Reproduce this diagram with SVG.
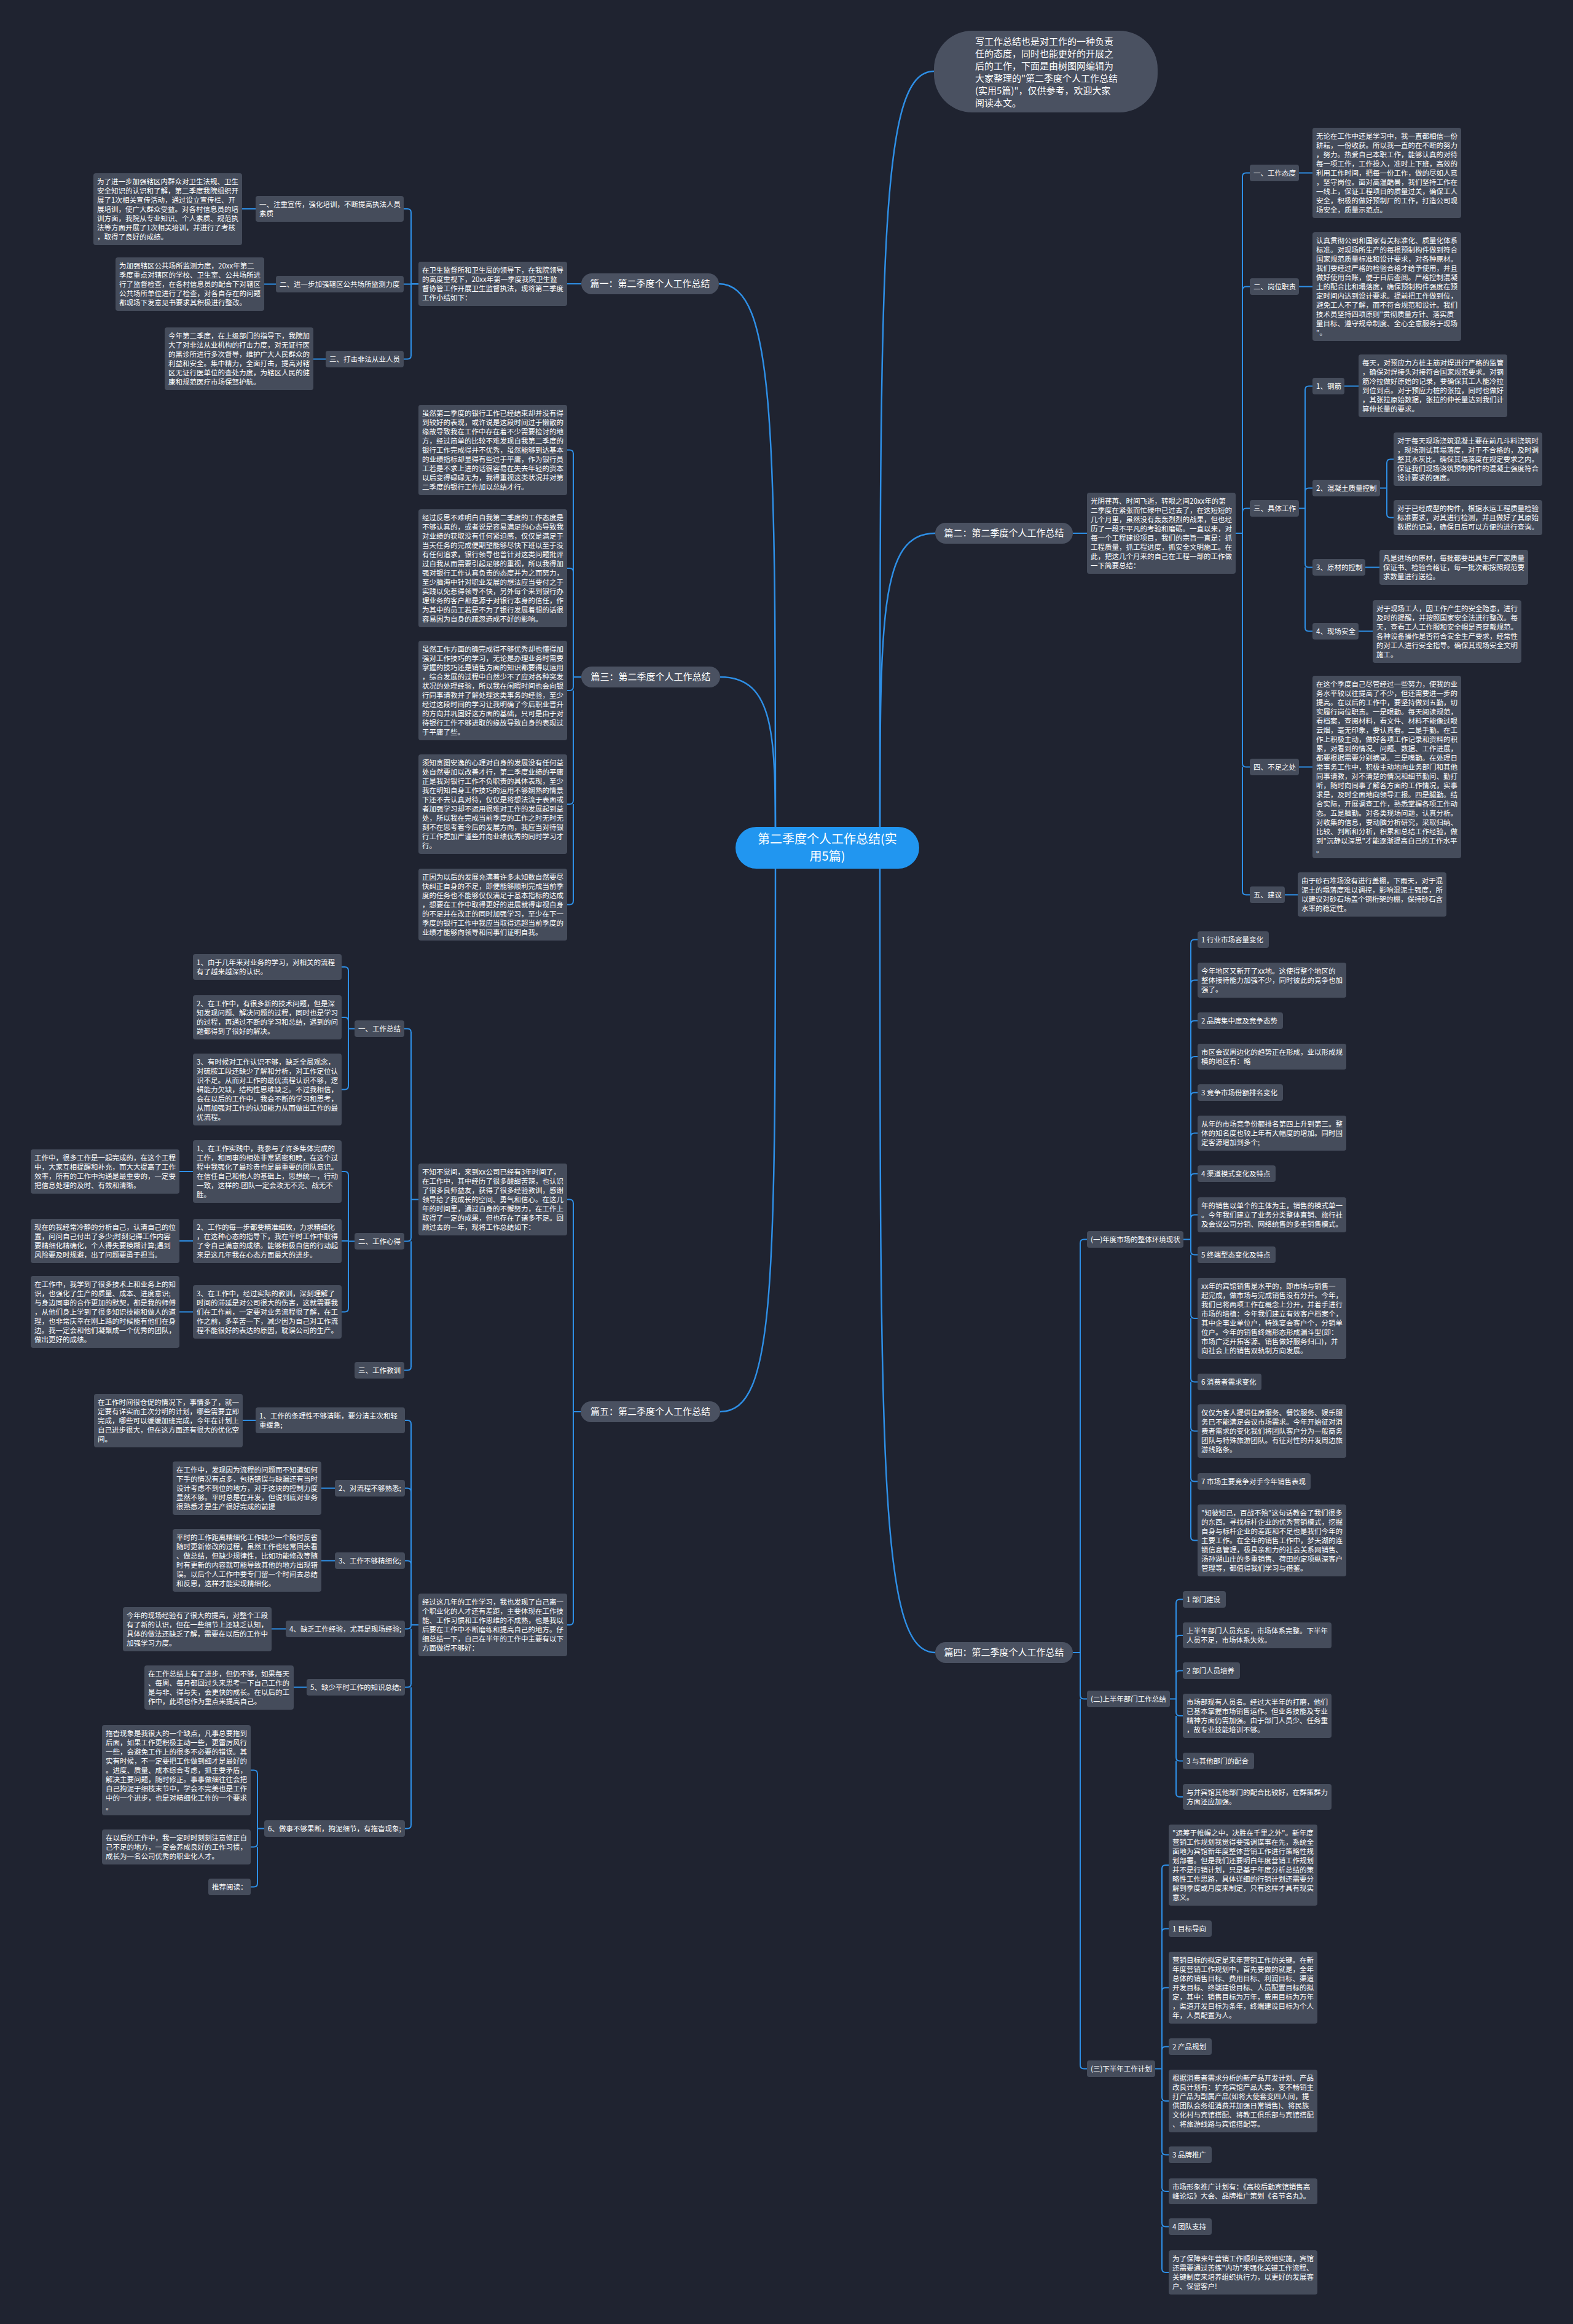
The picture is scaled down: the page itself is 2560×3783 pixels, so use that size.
<svg xmlns="http://www.w3.org/2000/svg" width="2560" height="3783" viewBox="0 0 2560 3783">
<style>
.n{fill:#454c5b}
.l1{fill:#4a5161}
.t{fill:#ffffff;font-family:"Noto Sans CJK SC","Noto Sans",sans-serif;font-size:11.5px}
.t1{fill:#ffffff;font-family:"Noto Sans CJK SC","Noto Sans",sans-serif;font-size:15px}
.c{fill:none;stroke:#2e8fe6;stroke-width:2}
.c1{fill:none;stroke:#2e8fe6;stroke-width:2.5}
</style>
<rect width="2560" height="3783" fill="#1f2330"/>
<g id="connectors">
<path class="c1" d="M1170,462 C1262,462 1262,700 1262,1380"/>
<path class="c1" d="M1172,1102 C1262,1102 1262,1200 1262,1380"/>
<path class="c1" d="M1172,2298 C1262,2298 1262,2100 1262,1380"/>
<path class="c1" d="M1520,116 C1432,116 1432,400 1432,1380"/>
<path class="c1" d="M1522,868 C1432,868 1432,1000 1432,1380"/>
<path class="c1" d="M1522,2690 C1432,2690 1432,2400 1432,1380"/>
<path class="c" d="M946,462 H923 M681,462 H669 V346 Q669,340 663,340 H657 M681,462.5 H657 M669,462 V578.5 Q669,584.5 663,584.5 H657 M416,340 H394 M449,462.5 H430 M530,584.5 H510"/>
<path class="c" d="M946,1102 H933 V738.5 Q933,732.5 927,732.5 H923 M933,931 Q933,925 927,925 H923 M933,1102 V1118 Q933,1124 927,1124 H923 M933,1124 V1303 Q933,1309 927,1309 H923 M933,1309 V1466.5 Q933,1472.5 927,1472.5 H923"/>
<path class="c" d="M945,2298 H933 V1958.5 Q933,1952.5 927,1952.5 H923 M933,2298 V2639 Q933,2645 927,2645 H923"/>
<path class="c" d="M681,1952.5 H669 V1680.5 Q669,1674.5 663,1674.5 H658 M669,1952.5 V2014.5 Q669,2020.5 663,2020.5 H658 M669,2020.5 V2224.5 Q669,2230.5 663,2230.5 H658"/>
<path class="c" d="M577,1674.5 H567 V1580 Q567,1574 561,1574 H556 M567,1662 Q567,1656 561,1656 H556 M567,1674.5 V1767.5 Q567,1773.5 561,1773.5 H556"/>
<path class="c" d="M577,2020.5 H567 V1913 Q567,1907 561,1907 H556 M567,2020 H556 M567,2020.5 V2129.5 Q567,2135.5 561,2135.5 H556 M314,1907 H292 M314,2020 H292 M314,2135.5 H292"/>
<path class="c" d="M681,2645 H669 V2318 Q669,2312 663,2312 H659 M669,2428.5 Q669,2422.5 663,2422.5 H659 M669,2546.5 Q669,2540.5 663,2540.5 H659 M669,2645 V2645.5 Q669,2651.5 663,2651.5 H659 M669,2651.5 V2740.5 Q669,2746.5 663,2746.5 H659 M669,2746.5 V2970.5 Q669,2976.5 663,2976.5 H659"/>
<path class="c" d="M416,2312 H395 M545,2422.5 H523 M545,2540.5 H523 M465,2651.5 H442 M499,2746.5 H478"/>
<path class="c" d="M430,2976.5 H419 V2887.5 Q419,2881.5 413,2881.5 H408 M419,2976.5 V3000.5 Q419,3006.5 413,3006.5 H408 M419,3006.5 V3065.5 Q419,3071.5 413,3071.5 H408"/>
<path class="c" d="M1746,868 H1769 M2011,868 H2022 V287.5 Q2022,281.5 2028,281.5 H2034 M2022,472.5 Q2022,466.5 2028,466.5 H2034 M2022,833.5 Q2022,827.5 2028,827.5 H2034 M2022,868 V1242.5 Q2022,1248.5 2028,1248.5 H2034 M2022,1248.5 V1450.5 Q2022,1456.5 2028,1456.5 H2034"/>
<path class="c" d="M2114,281.5 H2136 M2114,466.5 H2136 M2114,1248.5 H2136 M2091,1456.5 H2112"/>
<path class="c" d="M2114,827.5 H2124 V634.5 Q2124,628.5 2130,628.5 H2136 M2124,800.5 Q2124,794.5 2130,794.5 H2136 M2124,827.5 V917.5 Q2124,923.5 2130,923.5 H2136 M2124,923.5 V1021.5 Q2124,1027.5 2130,1027.5 H2136"/>
<path class="c" d="M2188,628.5 H2211 M2246,794.5 H2257 V753.5 Q2257,747.5 2263,747.5 H2268 M2257,794.5 V836.5 Q2257,842.5 2263,842.5 H2268 M2222,923.5 H2245 M2211,1027.5 H2234"/>
<path class="c" d="M1746,2690 H1758 V2023.5 Q1758,2017.5 1764,2017.5 H1769 M1758,2690 V2759.5 Q1758,2765.5 1764,2765.5 H1769 M1758,2765.5 V3361.5 Q1758,3367.5 1764,3367.5 H1769"/>
<path class="c" d="M1926,2017.5 H1938 V1535.5 Q1938,1529.5 1944,1529.5 H1949 M1938,1601.5 Q1938,1595.5 1944,1595.5 H1949 M1938,1667.5 Q1938,1661.5 1944,1661.5 H1949 M1938,1726 Q1938,1720 1944,1720 H1949 M1938,1784.5 Q1938,1778.5 1944,1778.5 H1949 M1938,1850.5 Q1938,1844.5 1944,1844.5 H1949 M1938,1916.5 Q1938,1910.5 1944,1910.5 H1949 M1938,1983.5 Q1938,1977.5 1944,1977.5 H1949 M1938,2017.5 V2036.5 Q1938,2042.5 1944,2042.5 H1949 M1938,2042.5 V2140 Q1938,2146 1944,2146 H1949 M1938,2146 V2243.5 Q1938,2249.5 1944,2249.5 H1949 M1938,2249.5 V2323.5 Q1938,2329.5 1944,2329.5 H1949 M1938,2329.5 V2405.5 Q1938,2411.5 1944,2411.5 H1949 M1938,2411.5 V2501.5 Q1938,2507.5 1944,2507.5 H1949"/>
<path class="c" d="M1904,2765.5 H1914 V2609.5 Q1914,2603.5 1920,2603.5 H1925 M1914,2668 Q1914,2662 1920,2662 H1925 M1914,2725.5 Q1914,2719.5 1920,2719.5 H1925 M1914,2765.5 V2787 Q1914,2793 1920,2793 H1925 M1914,2793 V2860.5 Q1914,2866.5 1920,2866.5 H1925 M1914,2866.5 V2919 Q1914,2925 1920,2925 H1925"/>
<path class="c" d="M1880,3367.5 H1891 V3042 Q1891,3036 1897,3036 H1902 M1891,3145.5 Q1891,3139.5 1897,3139.5 H1902 M1891,3241.5 Q1891,3235.5 1897,3235.5 H1902 M1891,3337.5 Q1891,3331.5 1897,3331.5 H1902 M1891,3367.5 V3414 Q1891,3420 1897,3420 H1902 M1891,3420 V3501.5 Q1891,3507.5 1897,3507.5 H1902 M1891,3507.5 V3561 Q1891,3567 1897,3567 H1902 M1891,3567 V3618.5 Q1891,3624.5 1897,3624.5 H1902 M1891,3624.5 V3693 Q1891,3699 1897,3699 H1902"/>
</g>
<g id="center"><rect x="1197" y="1346" width="299" height="68" rx="34" fill="#2196f0"/><text fill="#fff" font-family="Noto Sans CJK SC,Noto Sans,sans-serif" font-size="20" text-anchor="middle"><tspan x="1346.5" y="1373">第二季度个人工作总结(实</tspan><tspan x="1346.5" y="1401">用5篇)</tspan></text></g>
<g id="intro"><rect x="1520" y="50" width="364" height="133" rx="62" class="l1"/><text class="t1"><tspan x="1587" y="73">写工作总结也是对工作的一种负责</tspan><tspan x="1587" y="93">任的态度，同时也能更好的开展之</tspan><tspan x="1587" y="113">后的工作，下面是由树图网编辑为</tspan><tspan x="1587" y="133">大家整理的"第二季度个人工作总结</tspan><tspan x="1587" y="152.5">(实用5篇)"，仅供参考，欢迎大家</tspan><tspan x="1587" y="172.5">阅读本文。</tspan></text></g>

<g id="p1"><rect x="946" y="445" width="224" height="34" rx="17" class="l1"/><text class="t1" x="1058" y="467" text-anchor="middle">篇一：第二季度个人工作总结</text></g>
<g id="p1i"><rect x="681" y="426" width="242" height="72" rx="4" class="n"/><text class="t"><tspan x="687" y="443.5">在卫生监督所和卫生局的领导下，在我院领导</tspan><tspan x="687" y="458.5">的高度重视下，20xx年第一季度我院卫生监</tspan><tspan x="687" y="473.5">督协管工作开展卫生监督执法，现将第二季度</tspan><tspan x="687" y="488.5">工作小结如下：</tspan></text></g>
<g id="p1l1"><rect x="416" y="319" width="241" height="42" rx="4" class="n"/><text class="t"><tspan x="422" y="336.5">一、注重宣传，强化培训，不断提高执法人员</tspan><tspan x="422" y="351.5">素质</tspan></text></g>
<g id="p1l2"><rect x="449" y="449" width="208" height="27" rx="4" class="n"/><text class="t" x="455" y="467">二、进一步加强辖区公共场所监测力度</text></g>
<g id="p1l3"><rect x="530" y="571" width="127" height="27" rx="4" class="n"/><text class="t" x="536" y="589">三、打击非法从业人员</text></g>
<g id="p1t1"><rect x="152" y="282" width="242" height="117" rx="4" class="n"/><text class="t"><tspan x="158" y="299.5">为了进一步加强辖区内群众对卫生法规、卫生</tspan><tspan x="158" y="314.5">安全知识的认识和了解，第二季度我院组织开</tspan><tspan x="158" y="329.5">展了1次相关宣传活动，通过设立宣传栏、开</tspan><tspan x="158" y="344.5">展培训，使广大群众受益。对各村信息员的培</tspan><tspan x="158" y="359.5">训方面，我院从专业知识、个人素质、规范执</tspan><tspan x="158" y="374.5">法等方面开展了1次相关培训，并进行了考核</tspan><tspan x="158" y="389.5">，取得了良好的成绩。</tspan></text></g>
<g id="p1t2"><rect x="188" y="419" width="242" height="87" rx="4" class="n"/><text class="t"><tspan x="194" y="436.5">为加强辖区公共场所监测力度，20xx年第二</tspan><tspan x="194" y="451.5">季度重点对辖区的学校、卫生室、公共场所进</tspan><tspan x="194" y="466.5">行了监督检查，在各村信息员的配合下对辖区</tspan><tspan x="194" y="481.5">公共场所单位进行了检查，对各自存在的问题</tspan><tspan x="194" y="496.5">都现场下发意见书要求其积极进行整改。</tspan></text></g>
<g id="p1t3"><rect x="268" y="533" width="242" height="102" rx="4" class="n"/><text class="t"><tspan x="274" y="550.5">今年第二季度，在上级部门的指导下，我院加</tspan><tspan x="274" y="565.5">大了对非法从业机构的打击力度，对无证行医</tspan><tspan x="274" y="580.5">的黑诊所进行多次督导，维护广大人民群众的</tspan><tspan x="274" y="595.5">利益和安全。集中精力，全面打击，提高对辖</tspan><tspan x="274" y="610.5">区无证行医单位的查处力度，为辖区人民的健</tspan><tspan x="274" y="625.5">康和规范医疗市场保驾护航。</tspan></text></g>

<g id="p3"><rect x="946" y="1085" width="226" height="34" rx="17" class="l1"/><text class="t1" x="1059" y="1107" text-anchor="middle">篇三：第二季度个人工作总结</text></g>
<g id="p3b1"><rect x="681" y="659" width="242" height="147" rx="4" class="n"/><text class="t"><tspan x="687" y="676.5">虽然第二季度的银行工作已经结束却并没有得</tspan><tspan x="687" y="691.5">到较好的表现，或许说是这段时间过于懒散的</tspan><tspan x="687" y="706.5">缘故导致我在工作中存在着不少需要检讨的地</tspan><tspan x="687" y="721.5">方，经过简单的比较不难发现自我第二季度的</tspan><tspan x="687" y="736.5">银行工作完成得并不优秀，虽然能够到达基本</tspan><tspan x="687" y="751.5">的业绩指标却显得有些过于平庸，作为银行员</tspan><tspan x="687" y="766.5">工若是不求上进的话很容易在失去年轻的资本</tspan><tspan x="687" y="781.5">以后变得碌碌无为，我得重视这类状况并对第</tspan><tspan x="687" y="796.5">二季度的银行工作加以总结才行。</tspan></text></g>
<g id="p3b2"><rect x="681" y="829" width="242" height="192" rx="4" class="n"/><text class="t"><tspan x="687" y="846.5">经过反思不难明白自我第二季度的工作态度是</tspan><tspan x="687" y="861.5">不够认真的，或者说是容易满足的心态导致我</tspan><tspan x="687" y="876.5">对业绩的获取没有任何紧迫感，仅仅是满足于</tspan><tspan x="687" y="891.5">当天任务的完成便期望能够尽快下班以至于没</tspan><tspan x="687" y="906.5">有任何追求，银行领导也曾针对这类问题批评</tspan><tspan x="687" y="921.5">过自我从而需要引起足够的重视，所以我得加</tspan><tspan x="687" y="936.5">强对银行工作认真负责的态度并为之而努力，</tspan><tspan x="687" y="951.5">至少脑海中针对职业发展的想法应当要付之于</tspan><tspan x="687" y="966.5">实践以免惹得领导不快，另外每个来到银行办</tspan><tspan x="687" y="981.5">理业务的客户都是源于对银行本身的信任，作</tspan><tspan x="687" y="996.5">为其中的员工若是不为了银行发展着想的话很</tspan><tspan x="687" y="1011.5">容易因为自身的疏忽造成不好的影响。</tspan></text></g>
<g id="p3b3"><rect x="681" y="1043" width="242" height="162" rx="4" class="n"/><text class="t"><tspan x="687" y="1060.5">虽然工作方面的确完成得不够优秀却也懂得加</tspan><tspan x="687" y="1075.5">强对工作技巧的学习，无论是办理业务时需要</tspan><tspan x="687" y="1090.5">掌握的技巧还是销售方面的知识都要得以运用</tspan><tspan x="687" y="1105.5">，综合发展的过程中自然少不了应对各种突发</tspan><tspan x="687" y="1120.5">状况的处理经验，所以我在闲暇时间也会向银</tspan><tspan x="687" y="1135.5">行同事请教并了解处理这类事务的经验，至少</tspan><tspan x="687" y="1150.5">经过这段时间的学习让我明确了今后职业晋升</tspan><tspan x="687" y="1165.5">的方向并巩固好这方面的基础，只可是由于对</tspan><tspan x="687" y="1180.5">待银行工作不够进取的缘故导致自身的表现过</tspan><tspan x="687" y="1195.5">于平庸了些。</tspan></text></g>
<g id="p3b4"><rect x="681" y="1228" width="242" height="162" rx="4" class="n"/><text class="t"><tspan x="687" y="1245.5">须知贪图安逸的心理对自身的发展没有任何益</tspan><tspan x="687" y="1260.5">处自然要加以改善才行，第二季度业绩的平庸</tspan><tspan x="687" y="1275.5">正是我对银行工作不负职责的具体表现，至少</tspan><tspan x="687" y="1290.5">我在明知自身工作技巧的运用不够娴熟的情景</tspan><tspan x="687" y="1305.5">下还不去认真对待，仅仅是将想法流于表面或</tspan><tspan x="687" y="1320.5">者加强学习却不运用很难对工作的发展起到益</tspan><tspan x="687" y="1335.5">处，所以我在完成当前季度的工作之时无时无</tspan><tspan x="687" y="1350.5">刻不在思考着今后的发展方向，我应当对待银</tspan><tspan x="687" y="1365.5">行工作更加严谨些并向业绩优秀的同时学习才</tspan><tspan x="687" y="1380.5">行。</tspan></text></g>
<g id="p3b5"><rect x="681" y="1414" width="242" height="117" rx="4" class="n"/><text class="t"><tspan x="687" y="1431.5">正因为以后的发展充满着许多未知数自然要尽</tspan><tspan x="687" y="1446.5">快纠正自身的不足，即便能够顺利完成当前季</tspan><tspan x="687" y="1461.5">度的任务也不能够仅仅满足于基本指标的达成</tspan><tspan x="687" y="1476.5">，想要在工作中取得更好的进展就得审视自身</tspan><tspan x="687" y="1491.5">的不足并在改正的同时加强学习，至少在下一</tspan><tspan x="687" y="1506.5">季度的银行工作中我应当取得远超当前季度的</tspan><tspan x="687" y="1521.5">业绩才能够向领导和同事们证明自我。</tspan></text></g>

<g id="p5"><rect x="945" y="2281" width="227" height="34" rx="17" class="l1"/><text class="t1" x="1058.5" y="2303" text-anchor="middle">篇五：第二季度个人工作总结</text></g>
<g id="p5i1"><rect x="681" y="1894" width="242" height="117" rx="4" class="n"/><text class="t"><tspan x="687" y="1911.5">不知不觉间，来到xx公司已经有3年时间了，</tspan><tspan x="687" y="1926.5">在工作中，其中经历了很多酸甜苦辣，也认识</tspan><tspan x="687" y="1941.5">了很多良师益友，获得了很多经验教训，感谢</tspan><tspan x="687" y="1956.5">领导给了我成长的空间、勇气和信心。在这几</tspan><tspan x="687" y="1971.5">年的时间里，通过自身的不懈努力，在工作上</tspan><tspan x="687" y="1986.5">取得了一定的成果，但也存在了诸多不足。回</tspan><tspan x="687" y="2001.5">顾过去的一年，现将工作总结如下：</tspan></text></g>
<g id="p5i2"><rect x="681" y="2594" width="242" height="102" rx="4" class="n"/><text class="t"><tspan x="687" y="2611.5">经过这几年的工作学习，我也发现了自己离一</tspan><tspan x="687" y="2626.5">个职业化的人才还有差距，主要体现在工作技</tspan><tspan x="687" y="2641.5">能、工作习惯和工作思维的不成熟，也是我以</tspan><tspan x="687" y="2656.5">后要在工作中不断磨练和提高自己的地方。仔</tspan><tspan x="687" y="2671.5">细总结一下，自己在半年的工作中主要有以下</tspan><tspan x="687" y="2686.5">方面做得不够好：</tspan></text></g>
<g id="p5l1"><rect x="577" y="1661" width="81" height="27" rx="4" class="n"/><text class="t" x="583" y="1679">一、工作总结</text></g>
<g id="p5l2"><rect x="577" y="2007" width="81" height="27" rx="4" class="n"/><text class="t" x="583" y="2025">二、工作心得</text></g>
<g id="p5l3"><rect x="577" y="2217" width="81" height="27" rx="4" class="n"/><text class="t" x="583" y="2235">三、工作教训</text></g>
<g id="p5l1a"><rect x="314" y="1553" width="242" height="42" rx="4" class="n"/><text class="t"><tspan x="320" y="1570.5">1、由于几年来对业务的学习，对相关的流程</tspan><tspan x="320" y="1585.5">有了越来越深的认识。</tspan></text></g>
<g id="p5l1b"><rect x="314" y="1620" width="242" height="72" rx="4" class="n"/><text class="t"><tspan x="320" y="1637.5">2、在工作中，有很多新的技术问题，但是深</tspan><tspan x="320" y="1652.5">知发现问题、解决问题的过程，同时也是学习</tspan><tspan x="320" y="1667.5">的过程，再通过不断的学习和总结，遇到的问</tspan><tspan x="320" y="1682.5">题都得到了很好的解决。</tspan></text></g>
<g id="p5l1c"><rect x="314" y="1715" width="242" height="117" rx="4" class="n"/><text class="t"><tspan x="320" y="1732.5">3、有时候对工作认识不够，缺乏全局观念，</tspan><tspan x="320" y="1747.5">对硫胺工段还缺少了解和分析，对工作定位认</tspan><tspan x="320" y="1762.5">识不足。从而对工作的最优流程认识不够，逻</tspan><tspan x="320" y="1777.5">辑能力欠缺，结构性思维缺乏。不过我相信，</tspan><tspan x="320" y="1792.5">会在以后的工作中，我会不断的学习和思考，</tspan><tspan x="320" y="1807.5">从而加强对工作的认知能力从而做出工作的最</tspan><tspan x="320" y="1822.5">优流程。</tspan></text></g>
<g id="p5l2a"><rect x="314" y="1856" width="242" height="102" rx="4" class="n"/><text class="t"><tspan x="320" y="1873.5">1、在工作实践中，我参与了许多集体完成的</tspan><tspan x="320" y="1888.5">工作，和同事的相处非常紧密和睦，在这个过</tspan><tspan x="320" y="1903.5">程中我强化了最珍贵也是最重要的团队意识。</tspan><tspan x="320" y="1918.5">在信任自己和他人的基础上，思想统一，行动</tspan><tspan x="320" y="1933.5">一致，这样的.团队一定会攻无不克、战无不</tspan><tspan x="320" y="1948.5">胜。</tspan></text></g>
<g id="p5l2a1"><rect x="50" y="1871" width="242" height="72" rx="4" class="n"/><text class="t"><tspan x="56" y="1888.5">工作中，很多工作是一起完成的，在这个工程</tspan><tspan x="56" y="1903.5">中，大家互相提醒和补充，而大大提高了工作</tspan><tspan x="56" y="1918.5">效率，所有的工作中沟通是最重要的，一定要</tspan><tspan x="56" y="1933.5">把信息处理的及时、有效和清晰。</tspan></text></g>
<g id="p5l2b"><rect x="314" y="1984" width="242" height="72" rx="4" class="n"/><text class="t"><tspan x="320" y="2001.5">2、工作的每一步都要精准细致，力求精细化</tspan><tspan x="320" y="2016.5">，在这种心态的指导下，我在平时工作中取得</tspan><tspan x="320" y="2031.5">了令自己满意的成绩。能够积极自信的行动起</tspan><tspan x="320" y="2046.5">来是这几年我在心态方面最大的进步。</tspan></text></g>
<g id="p5l2b1"><rect x="50" y="1984" width="242" height="72" rx="4" class="n"/><text class="t"><tspan x="56" y="2001.5">现在的我经常冷静的分析自己，认清自己的位</tspan><tspan x="56" y="2016.5">置，问问自己付出了多少;时刻记得工作内容</tspan><tspan x="56" y="2031.5">要精细化精确化，个人得失要模糊计算;遇到</tspan><tspan x="56" y="2046.5">风险要及时规避，出了问题要勇于担当。</tspan></text></g>
<g id="p5l2c"><rect x="314" y="2092" width="242" height="87" rx="4" class="n"/><text class="t"><tspan x="320" y="2109.5">3、在工作中，经过实际的教训，深刻理解了</tspan><tspan x="320" y="2124.5">时间的滞延是对公司很大的伤害，这就需要我</tspan><tspan x="320" y="2139.5">们在工作前，一定要对业务流程很了解，在工</tspan><tspan x="320" y="2154.5">作之前，多辛苦一下，减少因为自己对工作流</tspan><tspan x="320" y="2169.5">程不能很好的表达的原因，耽误公司的生产。</tspan></text></g>
<g id="p5l2c1"><rect x="50" y="2077" width="242" height="117" rx="4" class="n"/><text class="t"><tspan x="56" y="2094.5">在工作中，我学到了很多技术上和业务上的知</tspan><tspan x="56" y="2109.5">识，也强化了生产的质量、成本、进度意识;</tspan><tspan x="56" y="2124.5">与身边同事的合作更加的默契，都是我的师傅</tspan><tspan x="56" y="2139.5">，从他们身上学到了很多知识技能和做人的道</tspan><tspan x="56" y="2154.5">理，也非常庆幸在刚上路的时候能有他们在身</tspan><tspan x="56" y="2169.5">边。我一定会和他们凝聚成一个优秀的团队，</tspan><tspan x="56" y="2184.5">做出更好的成绩。</tspan></text></g>
<g id="p5m1"><rect x="416" y="2291" width="243" height="42" rx="4" class="n"/><text class="t"><tspan x="422" y="2308.5">1、工作的条理性不够清晰，要分清主次和轻</tspan><tspan x="422" y="2323.5">重缓急;</tspan></text></g>
<g id="p5m2"><rect x="545" y="2409" width="114" height="27" rx="4" class="n"/><text class="t" x="551" y="2427">2、对流程不够熟悉;</text></g>
<g id="p5m3"><rect x="545" y="2527" width="114" height="27" rx="4" class="n"/><text class="t" x="551" y="2545">3、工作不够精细化;</text></g>
<g id="p5m4"><rect x="465" y="2638" width="194" height="27" rx="4" class="n"/><text class="t" x="471" y="2656">4、缺乏工作经验，尤其是现场经验;</text></g>
<g id="p5m5"><rect x="499" y="2733" width="160" height="27" rx="4" class="n"/><text class="t" x="505" y="2751">5、缺少平时工作的知识总结;</text></g>
<g id="p5m6"><rect x="430" y="2963" width="229" height="27" rx="4" class="n"/><text class="t" x="436" y="2981">6、做事不够果断，拘泥细节，有拖沓现象;</text></g>
<g id="p5m1c"><rect x="153" y="2269" width="242" height="87" rx="4" class="n"/><text class="t"><tspan x="159" y="2286.5">在工作时间很仓促的情况下，事情多了，就一</tspan><tspan x="159" y="2301.5">定要有详实而主次分明的计划，哪些需要立即</tspan><tspan x="159" y="2316.5">完成，哪些可以缓缓加班完成，今年在计划上</tspan><tspan x="159" y="2331.5">自己进步很大，但在这方面还有很大的优化空</tspan><tspan x="159" y="2346.5">间。</tspan></text></g>
<g id="p5m2c"><rect x="281" y="2379" width="242" height="87" rx="4" class="n"/><text class="t"><tspan x="287" y="2396.5">在工作中，发现因为流程的问题而不知道如何</tspan><tspan x="287" y="2411.5">下手的情况有点多，包括错误与缺漏还有当时</tspan><tspan x="287" y="2426.5">设计考虑不到位的地方，对于这块的控制力度</tspan><tspan x="287" y="2441.5">显然不够。平时总是在开发，但说到底对业务</tspan><tspan x="287" y="2456.5">很熟悉才是生产很好完成的前提</tspan></text></g>
<g id="p5m3c"><rect x="281" y="2489" width="242" height="102" rx="4" class="n"/><text class="t"><tspan x="287" y="2506.5">平时的工作距离精细化工作缺少一个随时反省</tspan><tspan x="287" y="2521.5">随时更新修改的过程，虽然工作也经常回头看</tspan><tspan x="287" y="2536.5">、做总结，但缺少规律性，比如功能修改等随</tspan><tspan x="287" y="2551.5">时有更新的内容就可能导致其他的地方出现错</tspan><tspan x="287" y="2566.5">误。以后个人工作中要专门留一个时间去总结</tspan><tspan x="287" y="2581.5">和反思，这样才能实现精细化。</tspan></text></g>
<g id="p5m4c"><rect x="200" y="2616" width="242" height="72" rx="4" class="n"/><text class="t"><tspan x="206" y="2633.5">今年的现场经验有了很大的提高，对整个工段</tspan><tspan x="206" y="2648.5">有了新的认识，但在一些细节上还缺乏认知，</tspan><tspan x="206" y="2663.5">具体的做法还缺乏了解，需要在以后的工作中</tspan><tspan x="206" y="2678.5">加强学习力度。</tspan></text></g>
<g id="p5m5c"><rect x="235" y="2711" width="243" height="72" rx="4" class="n"/><text class="t"><tspan x="241" y="2728.5">在工作总结上有了进步，但仍不够，如果每天</tspan><tspan x="241" y="2743.5">、每周、每月都回过头来思考一下自己工作的</tspan><tspan x="241" y="2758.5">是与非、得与失，会更快的成长。在以后的工</tspan><tspan x="241" y="2773.5">作中，此项也作为重点来提高自己。</tspan></text></g>
<g id="p5m6a"><rect x="166" y="2808" width="242" height="147" rx="4" class="n"/><text class="t"><tspan x="172" y="2825.5">拖沓现象是我很大的一个缺点，凡事总要拖到</tspan><tspan x="172" y="2840.5">后面，如果工作更积极主动一些，更雷厉风行</tspan><tspan x="172" y="2855.5">一些，会避免工作上的很多不必要的错误。其</tspan><tspan x="172" y="2870.5">实有时候，不一定要把工作做到细才是最好的</tspan><tspan x="172" y="2885.5">。进度、质量、成本综合考虑，抓主要矛盾，</tspan><tspan x="172" y="2900.5">解决主要问题，随时修正。事事做细往往会把</tspan><tspan x="172" y="2915.5">自己拘泥于细枝末节中，学会不完美也是工作</tspan><tspan x="172" y="2930.5">中的一个进步，也是对精细化工作的一个要求</tspan><tspan x="172" y="2945.5">。</tspan></text></g>
<g id="p5m6b"><rect x="166" y="2978" width="242" height="57" rx="4" class="n"/><text class="t"><tspan x="172" y="2995.5">在以后的工作中，我一定时时刻刻注意修正自</tspan><tspan x="172" y="3010.5">己不足的地方，一定会养成良好的工作习惯，</tspan><tspan x="172" y="3025.5">成长为一名公司优秀的职业化人才。</tspan></text></g>
<g id="p5m6c"><rect x="339" y="3058" width="69" height="27" rx="4" class="n"/><text class="t" x="345" y="3076">推荐阅读：</text></g>

<g id="p2"><rect x="1522" y="851" width="224" height="34" rx="17" class="l1"/><text class="t1" x="1634" y="873" text-anchor="middle">篇二：第二季度个人工作总结</text></g>
<g id="p2i"><rect x="1769" y="802" width="242" height="132" rx="4" class="n"/><text class="t"><tspan x="1775" y="819.5">光阴荏苒、时间飞逝，转眼之间20xx年的第</tspan><tspan x="1775" y="834.5">二季度在紧张而忙碌中已过去了，在这短短的</tspan><tspan x="1775" y="849.5">几个月里，虽然没有轰轰烈烈的战果，但也经</tspan><tspan x="1775" y="864.5">历了一段不平凡的考验和磨砺。一直以来，对</tspan><tspan x="1775" y="879.5">每一个工程建设项目，我们的宗旨一直是：抓</tspan><tspan x="1775" y="894.5">工程质量，抓工程进度，抓安全文明施工。在</tspan><tspan x="1775" y="909.5">此，把这几个月来的自己在工程一部的工作做</tspan><tspan x="1775" y="924.5">一下简要总结：</tspan></text></g>
<g id="p2q1"><rect x="2034" y="268" width="80" height="27" rx="4" class="n"/><text class="t" x="2040" y="286">一、工作态度</text></g>
<g id="p2q2"><rect x="2034" y="453" width="80" height="27" rx="4" class="n"/><text class="t" x="2040" y="471">二、岗位职责</text></g>
<g id="p2q3"><rect x="2034" y="814" width="80" height="27" rx="4" class="n"/><text class="t" x="2040" y="832">三、具体工作</text></g>
<g id="p2q4"><rect x="2034" y="1235" width="80" height="27" rx="4" class="n"/><text class="t" x="2040" y="1253">四、不足之处</text></g>
<g id="p2q5"><rect x="2034" y="1443" width="57" height="27" rx="4" class="n"/><text class="t" x="2040" y="1461">五、建议</text></g>
<g id="p2q1t"><rect x="2136" y="208" width="242" height="147" rx="4" class="n"/><text class="t"><tspan x="2142" y="225.5">无论在工作中还是学习中，我一直都相信一份</tspan><tspan x="2142" y="240.5">耕耘，一份收获。所以我一直的在不断的努力</tspan><tspan x="2142" y="255.5">，努力。热爱自己本职工作，能够认真的对待</tspan><tspan x="2142" y="270.5">每一项工作，工作投入，准时上下班，高效的</tspan><tspan x="2142" y="285.5">利用工作时间，把每一份工作，做的尽如人意</tspan><tspan x="2142" y="300.5">，坚守岗位。面对高温酷暑，我们坚持工作在</tspan><tspan x="2142" y="315.5">一线上，保证工程项目的质量过关，确保工人</tspan><tspan x="2142" y="330.5">安全，积极的做好预制厂的工作，打造公司现</tspan><tspan x="2142" y="345.5">场安全，质量示范点。</tspan></text></g>
<g id="p2q2t"><rect x="2136" y="378" width="242" height="177" rx="4" class="n"/><text class="t"><tspan x="2142" y="395.5">认真贯彻公司和国家有关标准化、质量化体系</tspan><tspan x="2142" y="410.5">标准。对现场所生产的每根预制构件做到符合</tspan><tspan x="2142" y="425.5">国家规范质量标准和设计要求，对各种原材。</tspan><tspan x="2142" y="440.5">我们要经过严格的检验合格才给予使用，并且</tspan><tspan x="2142" y="455.5">做好使用台账，便于日后查阅。严格控制混凝</tspan><tspan x="2142" y="470.5">土的配合比和塌落度，确保预制构件强度在预</tspan><tspan x="2142" y="485.5">定时间内达到设计要求。提前把工作做到位，</tspan><tspan x="2142" y="500.5">避免工人不了解，而不符合规范和设计。我们</tspan><tspan x="2142" y="515.5">技术员坚持四项原则"贯彻质量方针、落实质</tspan><tspan x="2142" y="530.5">量目标、遵守规章制度、全心全意服务于现场</tspan><tspan x="2142" y="545.5">"。</tspan></text></g>
<g id="p2s1"><rect x="2136" y="615" width="52" height="27" rx="4" class="n"/><text class="t" x="2142" y="633">1、钢筋</text></g>
<g id="p2s2"><rect x="2136" y="781" width="110" height="27" rx="4" class="n"/><text class="t" x="2142" y="799">2、混凝土质量控制</text></g>
<g id="p2s3"><rect x="2136" y="910" width="86" height="27" rx="4" class="n"/><text class="t" x="2142" y="928">3、原材的控制</text></g>
<g id="p2s4"><rect x="2136" y="1014" width="75" height="27" rx="4" class="n"/><text class="t" x="2142" y="1032">4、现场安全</text></g>
<g id="p2s1t"><rect x="2211" y="577" width="242" height="102" rx="4" class="n"/><text class="t"><tspan x="2217" y="594.5">每天，对预应力方桩主筋对焊进行严格的监管</tspan><tspan x="2217" y="609.5">，确保对焊接头对接符合国家规范要求。对钢</tspan><tspan x="2217" y="624.5">筋冷拉做好原始的记录，要确保其工人能冷拉</tspan><tspan x="2217" y="639.5">到位到点。对于预应力桩的张拉，同时也做好</tspan><tspan x="2217" y="654.5">，其张拉原始数据，张拉的伸长量达到我们计</tspan><tspan x="2217" y="669.5">算伸长量的要求。</tspan></text></g>
<g id="p2s2a"><rect x="2268" y="704" width="242" height="87" rx="4" class="n"/><text class="t"><tspan x="2274" y="721.5">对于每天现场浇筑混凝土要在前几斗料浇筑时</tspan><tspan x="2274" y="736.5">，现场测试其塌落度，对于不合格的，及时调</tspan><tspan x="2274" y="751.5">整其水灰比。确保其塌落度在规定要求之内。</tspan><tspan x="2274" y="766.5">保证我们现场浇筑预制构件的混凝土强度符合</tspan><tspan x="2274" y="781.5">设计要求的强度。</tspan></text></g>
<g id="p2s2b"><rect x="2268" y="814" width="242" height="57" rx="4" class="n"/><text class="t"><tspan x="2274" y="831.5">对于已经成型的构件，根据水运工程质量检验</tspan><tspan x="2274" y="846.5">标准要求，对其进行检测，并且做好了其原始</tspan><tspan x="2274" y="861.5">数据的记录，确保日后可以方便的进行查询。</tspan></text></g>
<g id="p2s3t"><rect x="2245" y="895" width="242" height="57" rx="4" class="n"/><text class="t"><tspan x="2251" y="912.5">凡是进场的原材，每批都要出具生产厂家质量</tspan><tspan x="2251" y="927.5">保证书、检验合格证，每一批次都按照规范要</tspan><tspan x="2251" y="942.5">求数量进行送检。</tspan></text></g>
<g id="p2s4t"><rect x="2234" y="977" width="242" height="102" rx="4" class="n"/><text class="t"><tspan x="2240" y="994.5">对于现场工人，因工作产生的安全隐患，进行</tspan><tspan x="2240" y="1009.5">及时的提醒，并按照国家安全法进行整改。每</tspan><tspan x="2240" y="1024.5">天，查看工人工作服和安全帽是否穿戴规范。</tspan><tspan x="2240" y="1039.5">各种设备操作是否符合安全生产要求，经常性</tspan><tspan x="2240" y="1054.5">的对工人进行安全指导。确保其现场安全文明</tspan><tspan x="2240" y="1069.5">施工。</tspan></text></g>
<g id="p2q4t"><rect x="2136" y="1100" width="242" height="297" rx="4" class="n"/><text class="t"><tspan x="2142" y="1117.5">在这个季度自己尽管经过一些努力，使我的业</tspan><tspan x="2142" y="1132.5">务水平较以往提高了不少，但还需要进一步的</tspan><tspan x="2142" y="1147.5">提高。在以后的工作中，要坚持做到五勤，切</tspan><tspan x="2142" y="1162.5">实履行岗位职责。一是眼勤。每天阅读规范，</tspan><tspan x="2142" y="1177.5">看档案，查阅材料，看文件、材料不能像过眼</tspan><tspan x="2142" y="1192.5">云烟，毫无印象，要认真看。二是手勤。在工</tspan><tspan x="2142" y="1207.5">作上积极主动，做好各项工作记录和资料的积</tspan><tspan x="2142" y="1222.5">累，对看到的情况、问题、数据、工作进展，</tspan><tspan x="2142" y="1237.5">都要根据需要分别摘录。三是嘴勤。在处理日</tspan><tspan x="2142" y="1252.5">常事务工作中，积极主动地向业务部门和其他</tspan><tspan x="2142" y="1267.5">同事请教，对不清楚的情况和细节勤问、勤打</tspan><tspan x="2142" y="1282.5">听，随时向同事了解各方面的工作情况，实事</tspan><tspan x="2142" y="1297.5">求是，及时全面地向领导汇报。四是腿勤。结</tspan><tspan x="2142" y="1312.5">合实际，开展调查工作，熟悉掌握各项工作动</tspan><tspan x="2142" y="1327.5">态。五是脑勤。对各类现场问题，认真分析。</tspan><tspan x="2142" y="1342.5">对收集的信息，要动脑分析研究，采取归纳、</tspan><tspan x="2142" y="1357.5">比较、判断和分析，积累和总结工作经验，做</tspan><tspan x="2142" y="1372.5">到"沉静以深思"才能逐渐提高自己的工作水平</tspan><tspan x="2142" y="1387.5">。</tspan></text></g>
<g id="p2q5t"><rect x="2112" y="1420" width="242" height="72" rx="4" class="n"/><text class="t"><tspan x="2118" y="1437.5">由于砂石堆场没有进行盖棚，下雨天，对于混</tspan><tspan x="2118" y="1452.5">泥土的塌落度难以调控，影响混泥土强度，所</tspan><tspan x="2118" y="1467.5">以建议对砂石场盖个钢桁架的棚，保持砂石含</tspan><tspan x="2118" y="1482.5">水率的稳定性。</tspan></text></g>

<g id="p4"><rect x="1522" y="2673" width="224" height="34" rx="17" class="l1"/><text class="t1" x="1634" y="2695" text-anchor="middle">篇四：第二季度个人工作总结</text></g>
<g id="p4r1"><rect x="1769" y="2004" width="157" height="27" rx="4" class="n"/><text class="t" x="1775" y="2022">(一)年度市场的整体环境现状</text></g>
<g id="p4r2"><rect x="1769" y="2752" width="135" height="27" rx="4" class="n"/><text class="t" x="1775" y="2770">(二)上半年部门工作总结</text></g>
<g id="p4r3"><rect x="1769" y="3354" width="111" height="27" rx="4" class="n"/><text class="t" x="1775" y="3372">(三)下半年工作计划</text></g>
<g id="p4a1"><rect x="1949" y="1516" width="116" height="27" rx="4" class="n"/><text class="t" x="1955" y="1534">1 行业市场容量变化</text></g>
<g id="p4a2"><rect x="1949" y="1567" width="242" height="57" rx="4" class="n"/><text class="t"><tspan x="1955" y="1584.5">今年地区又新开了xx地。这使得整个地区的</tspan><tspan x="1955" y="1599.5">整体接待能力加强不少，同时彼此的竞争也加</tspan><tspan x="1955" y="1614.5">强了。</tspan></text></g>
<g id="p4a3"><rect x="1949" y="1648" width="139" height="27" rx="4" class="n"/><text class="t" x="1955" y="1666">2 品牌集中度及竞争态势</text></g>
<g id="p4a4"><rect x="1949" y="1699" width="242" height="42" rx="4" class="n"/><text class="t"><tspan x="1955" y="1716.5">市区会议周边化的趋势正在形成，业以形成规</tspan><tspan x="1955" y="1731.5">模的地区有：略</tspan></text></g>
<g id="p4a5"><rect x="1949" y="1765" width="139" height="27" rx="4" class="n"/><text class="t" x="1955" y="1783">3 竞争市场份额排名变化</text></g>
<g id="p4a6"><rect x="1949" y="1816" width="242" height="57" rx="4" class="n"/><text class="t"><tspan x="1955" y="1833.5">从年的市场竞争份额排名第四上升到第三。整</tspan><tspan x="1955" y="1848.5">体的知名度也较上年有大幅度的增加。同时固</tspan><tspan x="1955" y="1863.5">定客源增加到多个;</tspan></text></g>
<g id="p4a7"><rect x="1949" y="1897" width="127" height="27" rx="4" class="n"/><text class="t" x="1955" y="1915">4 渠道模式变化及特点</text></g>
<g id="p4a8"><rect x="1949" y="1949" width="242" height="57" rx="4" class="n"/><text class="t"><tspan x="1955" y="1966.5">年的销售以单个的主体为主，销售的模式单一</tspan><tspan x="1955" y="1981.5">。今年我们建立了业务分类整体直销、旅行社</tspan><tspan x="1955" y="1996.5">及会议公司分销、网络统售的多重销售模式。</tspan></text></g>
<g id="p4a9"><rect x="1949" y="2029" width="127" height="27" rx="4" class="n"/><text class="t" x="1955" y="2047">5 终端型态变化及特点</text></g>
<g id="p4a10"><rect x="1949" y="2080" width="242" height="132" rx="4" class="n"/><text class="t"><tspan x="1955" y="2097.5">xx年的宾馆销售是水平的，即市场与销售一</tspan><tspan x="1955" y="2112.5">起完成，做市场与完成销售没有分开。今年，</tspan><tspan x="1955" y="2127.5">我们已将两项工作在概念上分开，并着手进行</tspan><tspan x="1955" y="2142.5">市场的培植：今年我们建立有效客户档案个，</tspan><tspan x="1955" y="2157.5">其中企事业单位户，特殊宴会客户个，分销单</tspan><tspan x="1955" y="2172.5">位户。今年的销售终端形态形成漏斗型(即：</tspan><tspan x="1955" y="2187.5">市场广泛开拓客源、销售做好服务归口)，并</tspan><tspan x="1955" y="2202.5">向社会上的销售双轨制方向发展。</tspan></text></g>
<g id="p4a11"><rect x="1949" y="2236" width="104" height="27" rx="4" class="n"/><text class="t" x="1955" y="2254">6 消费者需求变化</text></g>
<g id="p4a12"><rect x="1949" y="2286" width="242" height="87" rx="4" class="n"/><text class="t"><tspan x="1955" y="2303.5">仅仅为客人提供住房服务、餐饮服务、娱乐服</tspan><tspan x="1955" y="2318.5">务已不能满足会议市场需求。今年开始征对消</tspan><tspan x="1955" y="2333.5">费者需求的变化我们将团队客户分为一般商务</tspan><tspan x="1955" y="2348.5">团队与特殊旅游团队。有征对性的开发周边旅</tspan><tspan x="1955" y="2363.5">游线路条。</tspan></text></g>
<g id="p4a13"><rect x="1949" y="2398" width="184" height="27" rx="4" class="n"/><text class="t" x="1955" y="2416">7 市场主要竞争对手今年销售表现</text></g>
<g id="p4a14"><rect x="1949" y="2449" width="242" height="117" rx="4" class="n"/><text class="t"><tspan x="1955" y="2466.5">"知彼知己，百战不殆"这句话教会了我们很多</tspan><tspan x="1955" y="2481.5">的东西。寻找标杆企业的优秀营销模式，挖掘</tspan><tspan x="1955" y="2496.5">自身与标杆企业的差距和不足也是我们今年的</tspan><tspan x="1955" y="2511.5">主要工作。在全年的销售工作中，梦天湖的连</tspan><tspan x="1955" y="2526.5">锁信息管理，极具亲和力的社会关系网销售、</tspan><tspan x="1955" y="2541.5">汤孙湖山庄的多重销售、荷田的定项纵深客户</tspan><tspan x="1955" y="2556.5">管理等，都值得我们学习与借鉴。</tspan></text></g>
<g id="p4b1"><rect x="1925" y="2590" width="70" height="27" rx="4" class="n"/><text class="t" x="1931" y="2608">1 部门建设</text></g>
<g id="p4b2"><rect x="1925" y="2641" width="242" height="42" rx="4" class="n"/><text class="t"><tspan x="1931" y="2658.5">上半年部门人员充足，市场体系完整。下半年</tspan><tspan x="1931" y="2673.5">人员不足，市场体系失效。</tspan></text></g>
<g id="p4b3"><rect x="1925" y="2706" width="93" height="27" rx="4" class="n"/><text class="t" x="1931" y="2724">2 部门人员培养</text></g>
<g id="p4b4"><rect x="1925" y="2757" width="242" height="72" rx="4" class="n"/><text class="t"><tspan x="1931" y="2774.5">市场部现有人员名。经过大半年的打磨，他们</tspan><tspan x="1931" y="2789.5">已基本掌握市场销售运作。但业务技能及专业</tspan><tspan x="1931" y="2804.5">精神方面仍需加强。由于部门人员少、任务重</tspan><tspan x="1931" y="2819.5">，故专业技能培训不够。</tspan></text></g>
<g id="p4b5"><rect x="1925" y="2853" width="116" height="27" rx="4" class="n"/><text class="t" x="1931" y="2871">3 与其他部门的配合</text></g>
<g id="p4b6"><rect x="1925" y="2904" width="242" height="42" rx="4" class="n"/><text class="t"><tspan x="1931" y="2921.5">与并宾馆其他部门的配合比较好，在群策群力</tspan><tspan x="1931" y="2936.5">方面还应加强。</tspan></text></g>
<g id="p4c1"><rect x="1902" y="2970" width="242" height="132" rx="4" class="n"/><text class="t"><tspan x="1908" y="2987.5">"运筹于帷幄之中，决胜在千里之外"。新年度</tspan><tspan x="1908" y="3002.5">营销工作规划我觉得要强调谋事在先，系统全</tspan><tspan x="1908" y="3017.5">面地为宾馆新年度整体营销工作进行策略性规</tspan><tspan x="1908" y="3032.5">划部署。但是我们还要明白年度营销工作规划</tspan><tspan x="1908" y="3047.5">并不是行销计划，只是基于年度分析总结的策</tspan><tspan x="1908" y="3062.5">略性工作思路，具体详细的行销计划还需要分</tspan><tspan x="1908" y="3077.5">解到季度或月度来制定，只有这样才具有现实</tspan><tspan x="1908" y="3092.5">意义。</tspan></text></g>
<g id="p4c2"><rect x="1902" y="3126" width="70" height="27" rx="4" class="n"/><text class="t" x="1908" y="3144">1 目标导向</text></g>
<g id="p4c3"><rect x="1902" y="3177" width="242" height="117" rx="4" class="n"/><text class="t"><tspan x="1908" y="3194.5">营销目标的拟定是来年营销工作的关键。在新</tspan><tspan x="1908" y="3209.5">年度营销工作规划中，首先要做的就是，全年</tspan><tspan x="1908" y="3224.5">总体的销售目标、费用目标、利润目标、渠道</tspan><tspan x="1908" y="3239.5">开发目标、终端建设目标、人员配置目标的拟</tspan><tspan x="1908" y="3254.5">定，其中：销售目标为万年，费用目标为万年</tspan><tspan x="1908" y="3269.5">，渠道开发目标为条年，终端建设目标为个人</tspan><tspan x="1908" y="3284.5">年，人员配置为人。</tspan></text></g>
<g id="p4c4"><rect x="1902" y="3318" width="70" height="27" rx="4" class="n"/><text class="t" x="1908" y="3336">2 产品规划</text></g>
<g id="p4c5"><rect x="1902" y="3369" width="242" height="102" rx="4" class="n"/><text class="t"><tspan x="1908" y="3386.5">根据消费者需求分析的新产品开发计划、产品</tspan><tspan x="1908" y="3401.5">改良计划有：扩充宾馆产品大类，变不畅销主</tspan><tspan x="1908" y="3416.5">打产品为副属产品(如将大使套变四人间，提</tspan><tspan x="1908" y="3431.5">供团队会务组消费并加强日常销售)、将民族</tspan><tspan x="1908" y="3446.5">文化村与宾馆搭配、将教工俱乐部与宾馆搭配</tspan><tspan x="1908" y="3461.5">、将旅游线路与宾馆搭配等。</tspan></text></g>
<g id="p4c6"><rect x="1902" y="3494" width="70" height="27" rx="4" class="n"/><text class="t" x="1908" y="3512">3 品牌推广</text></g>
<g id="p4c7"><rect x="1902" y="3546" width="242" height="42" rx="4" class="n"/><text class="t"><tspan x="1908" y="3563.5">市场形象推广计划有：《高校后勤宾馆销售高</tspan><tspan x="1908" y="3578.5">峰论坛》大会、品牌推广策划《名节名丸》。</tspan></text></g>
<g id="p4c8"><rect x="1902" y="3611" width="70" height="27" rx="4" class="n"/><text class="t" x="1908" y="3629">4 团队支持</text></g>
<g id="p4c9"><rect x="1902" y="3663" width="242" height="72" rx="4" class="n"/><text class="t"><tspan x="1908" y="3680.5">为了保障来年营销工作顺利高效地实施，宾馆</tspan><tspan x="1908" y="3695.5">还需要通过苦练"内功"来强化关键工作流程、</tspan><tspan x="1908" y="3710.5">关键制度来培养组织执行力，以更好的发展客</tspan><tspan x="1908" y="3725.5">户、保留客户!</tspan></text></g>
</svg>
